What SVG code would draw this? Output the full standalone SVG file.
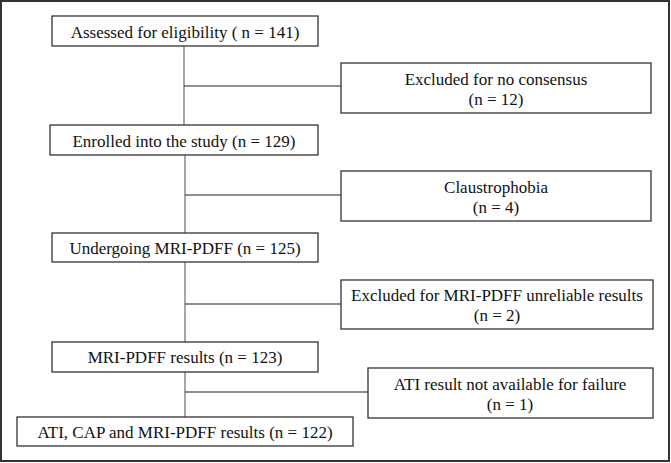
<svg xmlns="http://www.w3.org/2000/svg" width="671" height="463" viewBox="0 0 671 463">
<style>
.box{fill:#fff;stroke:#333;stroke-width:1.3}
.t{font-family:"Liberation Serif","Times New Roman",serif;font-size:17px;fill:#111;text-anchor:middle}
.v{stroke:#777;stroke-width:1.3;fill:none}
.h{stroke:#222;stroke-width:1.2;fill:none}
</style>
<rect x="1" y="1" width="668" height="460" fill="#fff" stroke="#333" stroke-width="2"/>
<g id="connectors">
<line class="v" x1="184" y1="46" x2="184" y2="125"/>
<line class="h" x1="184" y1="86" x2="341" y2="86"/>
<line class="v" x1="185" y1="155" x2="185" y2="233"/>
<line class="h" x1="185" y1="195" x2="341" y2="195"/>
<line class="v" x1="185" y1="262" x2="185" y2="342"/>
<line class="h" x1="185" y1="304" x2="341" y2="304"/>
<line class="v" x1="185" y1="372" x2="185" y2="417"/>
<line class="h" x1="185" y1="392" x2="368" y2="392"/>
</g>
<g id="n1"><rect class="box" x="52" y="16" width="266" height="30"/><text class="t" x="185" y="37.5">Assessed for eligibility ( n = 141)</text></g>
<g id="n2"><rect class="box" x="341" y="63" width="310" height="50"/><text class="t" x="496" y="84.5">Excluded for no consensus</text><text class="t" x="496" y="104.5">(n = 12)</text></g>
<g id="n3"><rect class="box" x="50" y="125" width="268" height="30"/><text class="t" x="184" y="146.5">Enrolled into the study (n = 129)</text></g>
<g id="n4"><rect class="box" x="341" y="171" width="310" height="50"/><text class="t" x="496" y="192.5">Claustrophobia</text><text class="t" x="496" y="212.5">(n = 4)</text></g>
<g id="n5"><rect class="box" x="52" y="233" width="266" height="29"/><text class="t" x="185" y="253.5">Undergoing MRI-PDFF (n = 125)</text></g>
<g id="n6"><rect class="box" x="341" y="280" width="312" height="49"/><text class="t" x="497" y="301">Excluded for MRI-PDFF unreliable results</text><text class="t" x="497" y="321">(n = 2)</text></g>
<g id="n7"><rect class="box" x="52" y="342" width="266" height="30"/><text class="t" x="185" y="363">MRI-PDFF results (n = 123)</text></g>
<g id="n8"><rect class="box" x="368" y="368" width="285" height="50"/><text class="t" x="510" y="389.5">ATI result not available for failure</text><text class="t" x="510" y="409.5">(n = 1)</text></g>
<g id="n9"><rect class="box" x="17" y="417" width="336" height="29"/><text class="t" x="185" y="437.5">ATI, CAP and MRI-PDFF results (n = 122)</text></g>
</svg>
